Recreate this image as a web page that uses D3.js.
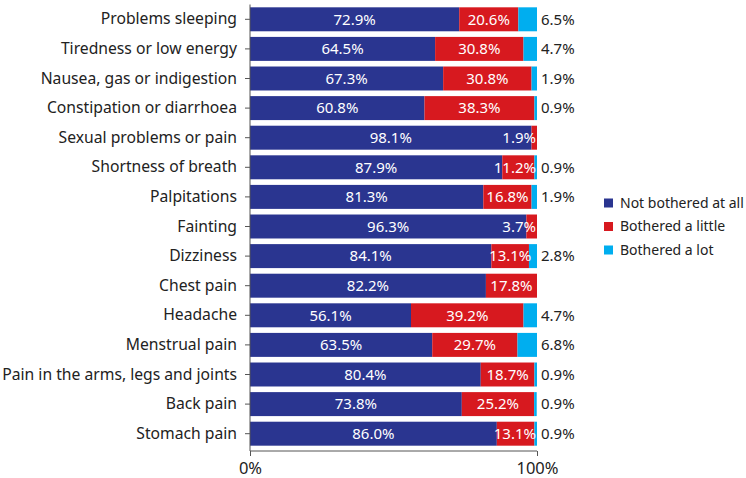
<!DOCTYPE html>
<html><head><meta charset="utf-8">
<script src="https://cdn.jsdelivr.net/npm/d3@7"></script>
<style>body{margin:0;background:#fff}svg{display:block}text{font-family:"Noto Sans",sans-serif}</style>
</head><body><svg id="c" width="746" height="478"></svg>
<script>
const categories = ["Problems sleeping","Tiredness or low energy","Nausea, gas or indigestion","Constipation or diarrhoea","Sexual problems or pain","Shortness of breath","Palpitations","Fainting","Dizziness","Chest pain","Headache","Menstrual pain","Pain in the arms, legs and joints","Back pain","Stomach pain"];
const notBothered = [72.9,64.5,67.3,60.8,98.1,87.9,81.3,96.3,84.1,82.2,56.1,63.5,80.4,73.8,86.0];
const botheredLittle = [20.6,30.8,30.8,38.3,1.9,11.2,16.8,3.7,13.1,17.8,39.2,29.7,18.7,25.2,13.1];
const botheredLot = [6.5,4.7,1.9,0.9,0,0.9,1.9,0,2.8,0,4.7,6.8,0.9,0.9,0.9];
const seriesNames = ["Not bothered at all","Bothered a little","Bothered a lot"];
const colors = ["#2a3590","#d7191f","#00aeef"];
const tickLabels = ["0%","100%"];

const svg = d3.select("#c");
const x = d3.scaleLinear().domain([0,100]).range([250,537]);
const y = d3.scaleBand().domain(categories).range([4.5,448.5]).paddingInner(0.19).paddingOuter(0.095);

const rows = categories.map((c,i)=>({c, v:[notBothered[i],botheredLittle[i],botheredLot[i]]}));
const g = svg.append("g");
rows.forEach(r=>{
  let acc=0;
  r.v.forEach((v,k)=>{
    if(v>0){
      g.append("rect").attr("x",x(acc)).attr("y",y(r.c)).attr("width",x(acc+v)-x(acc)).attr("height",y.bandwidth()).attr("fill",colors[k]);
    }
    acc+=v;
  });
});
// labels
rows.forEach(r=>{
  const cy = y(r.c)+y.bandwidth()/2;
  let acc=0;
  [0,1].forEach(k=>{
    const v=r.v[k];
    const t = g.append("text").attr("y",cy).attr("dy","0.35em").attr("fill","#fff").attr("font-size",15).attr("text-anchor","middle").text(v.toFixed(1)+"%");
    const w = t.node().getComputedTextLength();
    let cx = (x(acc)+x(acc+v))/2;
    cx = Math.min(cx, x(100)-1-w/2);
    t.attr("x",cx);
    acc+=v;
  });
  if(r.v[2]>0){
    g.append("text").attr("x",541).attr("y",cy).attr("dy","0.35em").attr("fill","#222").attr("font-size",15).text(r.v[2].toFixed(1)+"%");
  }
});
// y axis
const ya = svg.append("g").attr("transform","translate(250,0)").call(d3.axisLeft(y).tickSize(5).tickPadding(8));
ya.select(".domain").attr("stroke","#555").attr("d","M0,4.5V451");
ya.selectAll(".tick line").attr("stroke","#555");
ya.selectAll("text").attr("font-size",15.7).attr("fill","#222").style("font-family",'"Noto Sans",sans-serif');
// x axis
const xa = svg.append("g").attr("transform","translate(0,451)").call(d3.axisBottom(x).tickValues([0,100]).tickFormat((d,i)=>tickLabels[i]).tickSize(5).tickPadding(6));
xa.select(".domain").attr("stroke","#555").attr("d","M250,0H537");
xa.selectAll(".tick line").attr("stroke","#555");
xa.selectAll("text").attr("font-size",16.5).attr("fill","#222").style("font-family",'"Noto Sans",sans-serif');
// legend
const lg = svg.append("g");
seriesNames.forEach((n,i)=>{
  const ly = 203 + i*23.5;
  lg.append("rect").attr("x",604).attr("y",ly-4.5).attr("width",9).attr("height",9).attr("fill",colors[i]);
  lg.append("text").attr("x",620).attr("y",ly).attr("dy","0.35em").attr("font-size",14).attr("fill","#222").text(n);
});
</script></body></html>
